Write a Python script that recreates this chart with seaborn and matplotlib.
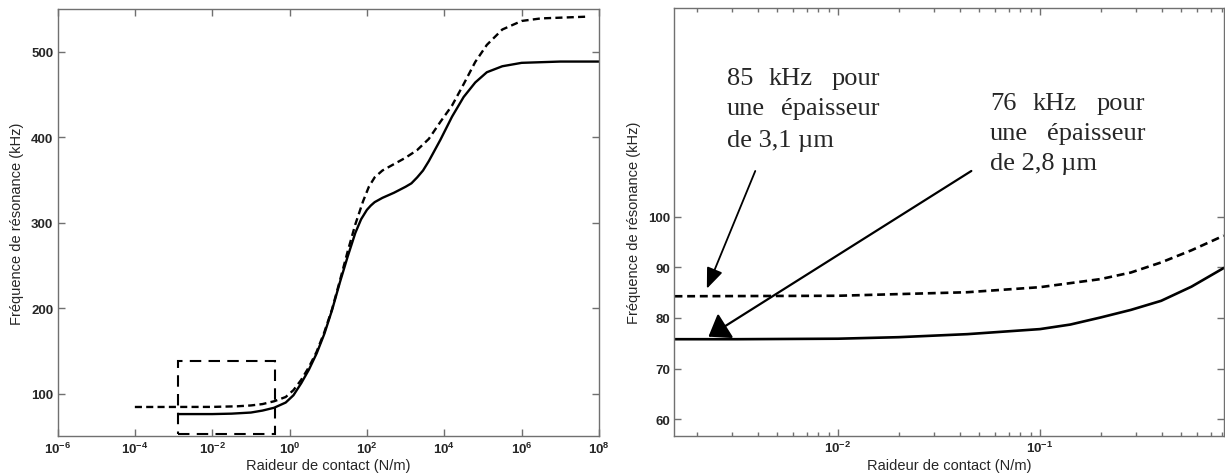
import numpy as np
import matplotlib
matplotlib.use('Agg')
import matplotlib.pyplot as plt
import matplotlib.patches as patches
import seaborn as sns

# Values (x given as log10 of stiffness in N/m)

# left panel: full range
full_solid_exp = [-2.87, -2.0, -1.5, -1.0, -0.7, -0.4, -0.1, 0.1, 0.3, 0.5, 0.7, 0.9,
                  1.1, 1.3, 1.5, 1.7, 1.85, 2.0, 2.1, 2.2, 2.4, 2.7, 3.0, 3.15, 3.3,
                  3.45, 3.6, 3.9, 4.2, 4.5, 4.8, 5.1, 5.5, 6.0, 7.0, 8.0]
full_solid_khz = [76.0, 76.0, 76.5, 77.8, 80.1, 83.4, 89.5, 98, 112, 128, 147, 170,
                  198, 230, 260, 288, 304, 315, 320, 324, 329, 335, 342, 346, 353,
                  361, 372, 397, 424, 447, 464, 476, 483, 487, 488.5, 488.5]
full_dashed_exp = [-4.0, -2.0, -1.36, -1.0, -0.7, -0.4, -0.1, 0.1, 0.3, 0.5, 0.7, 0.9,
                   1.1, 1.3, 1.5, 1.7, 1.9, 2.05, 2.2, 2.4, 2.6, 3.0, 3.3, 3.6, 3.9,
                   4.2, 4.5, 4.8, 5.1, 5.5, 6.0, 6.5, 7.67]
full_dashed_khz = [84.3, 84.4, 85.1, 86.1, 87.7, 91, 96, 104, 116, 131, 149, 172,
                   199, 232, 266, 298, 325, 342, 353, 361, 366, 376, 385, 398, 418,
                   437, 462, 488, 508, 526, 536, 539, 541]
zoom_box = [1.32e-3, 0.43, 53, 137.7]   # xmin, xmax, ymin, ymax

# right panel: zoom on low stiffness
zoom_solid_exp = [-2.81, -2.5, -2.0, -1.7, -1.36, -1.0, -0.85, -0.7, -0.55, -0.4, -0.25, -0.09]
zoom_solid_khz = [75.8, 75.8, 75.9, 76.2, 76.8, 77.8, 78.7, 80.1, 81.6, 83.4, 86.2, 89.9]
zoom_dashed_exp = [-2.81, -2.0, -1.36, -1.0, -0.7, -0.55, -0.4, -0.25, -0.09]
zoom_dashed_khz = [84.3, 84.4, 85.1, 86.1, 87.7, 89.0, 91.0, 93.4, 96.3]

arrow_31_start, arrow_31_tip = (3.89e-3, 109.1), (2.24e-3, 85.8)
arrow_28_start, arrow_28_tip = (0.0457, 109.1), (2.28e-3, 76.3)

left_xticks = [1e-6, 1e-4, 1e-2, 1e0, 1e2, 1e4, 1e6, 1e8]
left_yticks = [100, 200, 300, 400, 500]
right_xticks = [1e-2, 1e-1]
right_yticks = [60, 70, 80, 90, 100]

sns.set_style('ticks')
plt.rcParams['font.family'] = ['Liberation Sans', 'DejaVu Sans']
plt.rcParams['mathtext.fontset'] = 'custom'
plt.rcParams['mathtext.rm'] = 'Liberation Sans:bold'
plt.rcParams['mathtext.it'] = 'Liberation Sans:bold'
plt.rcParams['mathtext.bf'] = 'Liberation Sans:bold'

W, H = 1225, 477
fig = plt.figure(figsize=(W / 100, H / 100), dpi=100)
ax1 = fig.add_axes([57.5 / W, 1 - 437.3 / H, (599 - 57.5) / W, (437.3 - 10) / H])
ax2 = fig.add_axes([674 / W, 1 - 436.7 / H, (1224 - 674) / W, (436.7 - 9.3) / H])

frame = '#707070'
dash_curve = (0, (3, 1.8))


def style_axes(ax):
    for s in ax.spines.values():
        s.set_color(frame)
        s.set_linewidth(1.0)
    ax.tick_params(which='both', direction='in', top=True, right=True,
                   color=frame, labelsize=9.5, pad=3)
    ax.tick_params(which='major', length=5, width=1)
    ax.tick_params(which='minor', length=3, width=1)
    for lab in ax.get_yticklabels():
        lab.set_fontweight('bold')


# left panel
sns.lineplot(x=np.power(10.0, full_solid_exp), y=full_solid_khz, ax=ax1,
             color='black', lw=1.7, sort=False)
sns.lineplot(x=np.power(10.0, full_dashed_exp), y=full_dashed_khz, ax=ax1,
             color='black', lw=1.7, linestyle=dash_curve, sort=False)
ax1.add_patch(patches.Rectangle((zoom_box[0], zoom_box[2]), zoom_box[1] - zoom_box[0],
                                zoom_box[3] - zoom_box[2], fill=False, ec='black',
                                lw=1.5, linestyle=(0, (5.5, 3.5))))
ax1.set_xscale('log')
ax1.set_xlim(1e-6, 1e8)
ax1.set_ylim(50, 550)
ax1.set_xticks(left_xticks)
ax1.xaxis.set_minor_locator(matplotlib.ticker.NullLocator())
ax1.set_xticklabels([r'$10^{%d}$' % int(np.log10(v)) for v in left_xticks])
ax1.set_yticks(left_yticks)
ax1.set_xlabel('Raideur de contact (N/m)', fontsize=10.5, labelpad=2)
ax1.set_ylabel('Fréquence de résonance (kHz)', fontsize=10.5, labelpad=5)
style_axes(ax1)

# right panel
sns.lineplot(x=np.power(10.0, zoom_solid_exp), y=zoom_solid_khz, ax=ax2,
             color='black', lw=1.9, sort=False)
sns.lineplot(x=np.power(10.0, zoom_dashed_exp), y=zoom_dashed_khz, ax=ax2,
             color='black', lw=1.9, linestyle=dash_curve, sort=False)
ax2.set_xscale('log')
ax2.set_xlim(1.54e-3, 0.815)
ax2.set_ylim(56.7, 141.3)
ax2.set_xticks(right_xticks)
ax2.set_xticklabels([r'$10^{%d}$' % int(np.log10(v)) for v in right_xticks])
ax2.xaxis.set_minor_locator(matplotlib.ticker.LogLocator(subs=np.arange(2, 10)))
ax2.xaxis.set_minor_formatter(matplotlib.ticker.NullFormatter())
ax2.set_yticks(right_yticks)
ax2.set_xlabel('Raideur de contact (N/m)', fontsize=10.5, labelpad=2)
ax2.set_ylabel('Fréquence de résonance (kHz)', fontsize=10.5, labelpad=5)
style_axes(ax2)

ax2.annotate('', xy=arrow_31_tip, xytext=arrow_31_start,
             arrowprops=dict(arrowstyle='-|>,head_length=0.7,head_width=0.28',
                             color='black', lw=1.3, mutation_scale=18,
                             shrinkA=0, shrinkB=0))
ax2.annotate('', xy=arrow_28_tip, xytext=arrow_28_start,
             arrowprops=dict(arrowstyle='-|>,head_length=0.7,head_width=0.5',
                             color='black', lw=1.6, mutation_scale=18,
                             shrinkA=0, shrinkB=0))

# justified annotation text, placed in figure pixels (left of each word, right end)
serif = dict(family=['Liberation Serif', 'DejaVu Serif'], fontsize=19, va='baseline')


def line(y, words, lefts, right=None):
    for i, (w, x) in enumerate(zip(words, lefts)):
        if right is not None and i == len(words) - 1 and i > 0:
            fig.text(right / W, 1 - y / H, w, ha='right', **serif)
        else:
            fig.text(x / W, 1 - y / H, w, ha='left', **serif)


line(85, ['85', 'kHz', 'pour'], [726.7, 769, 0], right=880)
line(115, ['une', 'épaisseur'], [726.7, 0], right=880)
line(146.7, ['de 3,1 µm'], [726.7])
line(110, ['76', 'kHz', 'pour'], [990, 1033, 0], right=1145)
line(140, ['une', 'épaisseur'], [990, 0], right=1145)
line(170, ['de 2,8 µm'], [990])

fig.savefig('out.png', dpi=100)
